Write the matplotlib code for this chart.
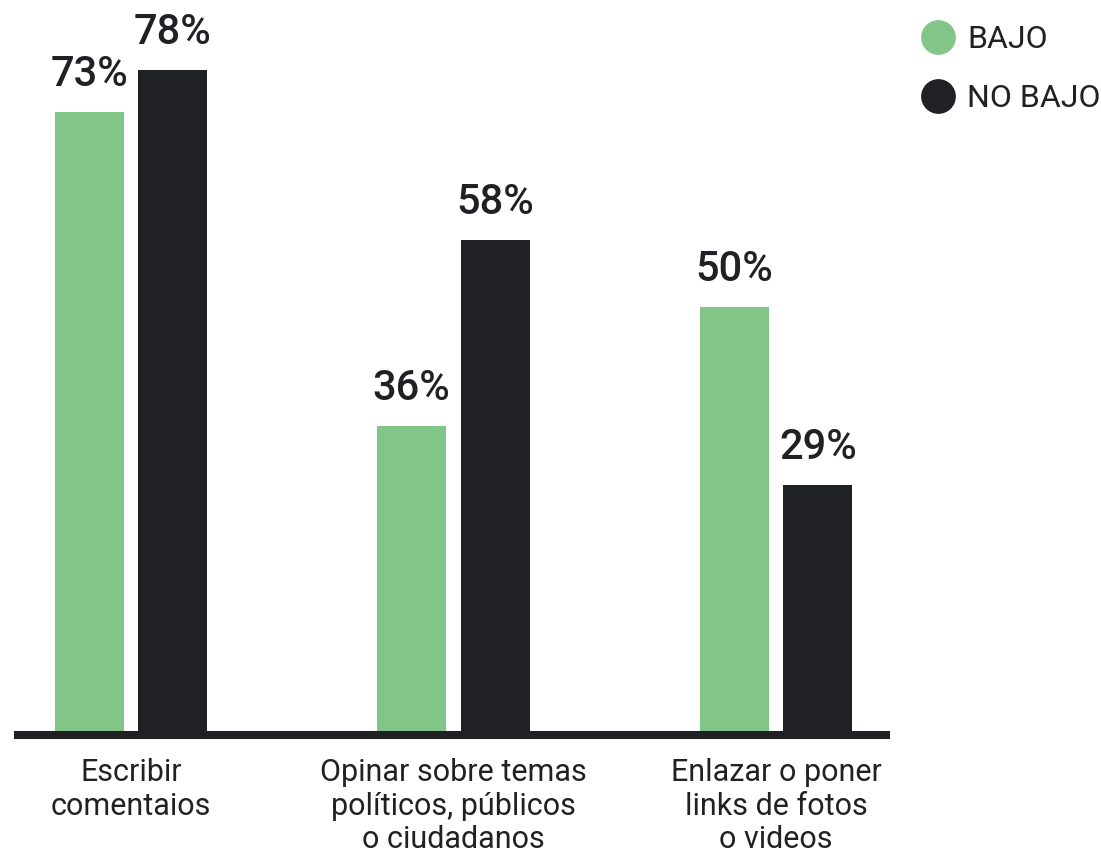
import matplotlib

matplotlib.use("Agg")
import matplotlib.pyplot as plt
import numpy as np
from matplotlib.lines import Line2D

categories = [
    "Escribir\ncomentaios",
    "Opinar sobre temas\npolíticos, públicos\no ciudadanos",
    "Enlazar o poner\nlinks de fotos\no videos",
]
series_names = ["BAJO", "NO BAJO"]
bajo = [73, 36, 50]
no_bajo = [78, 58, 29]

GREEN = "#82c687"
DARK = "#202124"

plt.rcParams["font.family"] = ["Roboto", "DejaVu Sans"]

fig = plt.figure(figsize=(11.01, 8.56), dpi=100)
# axes spans from the baseline up to the top edge of the figure
ax = fig.add_axes([14 / 1101, 125 / 856, 876 / 1101, 731 / 856])

x = np.arange(len(categories))
width = 0.214
offset = 0.130
bars_b = ax.bar(x - offset, bajo, width, color=GREEN, label=series_names[0])
bars_n = ax.bar(x + offset, no_bajo, width, color=DARK, label=series_names[1])

for bars, vals in ((bars_b, bajo), (bars_n, no_bajo)):
    for b, v in zip(bars, vals):
        ax.annotate(f"{v}%", (b.get_x() + b.get_width() / 2, v),
                    xytext=(0, 17), textcoords="offset pixels",
                    ha="center", va="bottom", fontsize=30, fontweight="medium",
                    color=DARK)

ax.set_xlim(-0.3628, 2.3535)
ax.set_ylim(0, 731 / 8.474)

# thick baseline under the bars
ax.plot([-0.3628, 2.3535], [-0.47, -0.47], color=DARK, lw=5.8,
        solid_capstyle="butt", clip_on=False)

for i, lab in enumerate(categories):
    ax.annotate(lab, (x[i], 0), xytext=(0, -27), textcoords="offset pixels",
                ha="center", va="top", fontsize=22, color=DARK,
                linespacing=1.2, annotation_clip=False)

ax.set_xticks([])
ax.set_yticks([])
for s in ax.spines.values():
    s.set_visible(False)

handles = [
    Line2D([], [], marker="o", ls="", markersize=24, color=GREEN),
    Line2D([], [], marker="o", ls="", markersize=24, color=DARK),
]
fig.legend(handles, series_names, loc="upper left",
           bbox_to_anchor=(903 / 1101, 1 - 9 / 856), frameon=False,
           fontsize=23, handletextpad=0.3, labelspacing=0.95,
           handlelength=1.2, borderpad=0, labelcolor=DARK)

fig.savefig("out.png", dpi=100)
